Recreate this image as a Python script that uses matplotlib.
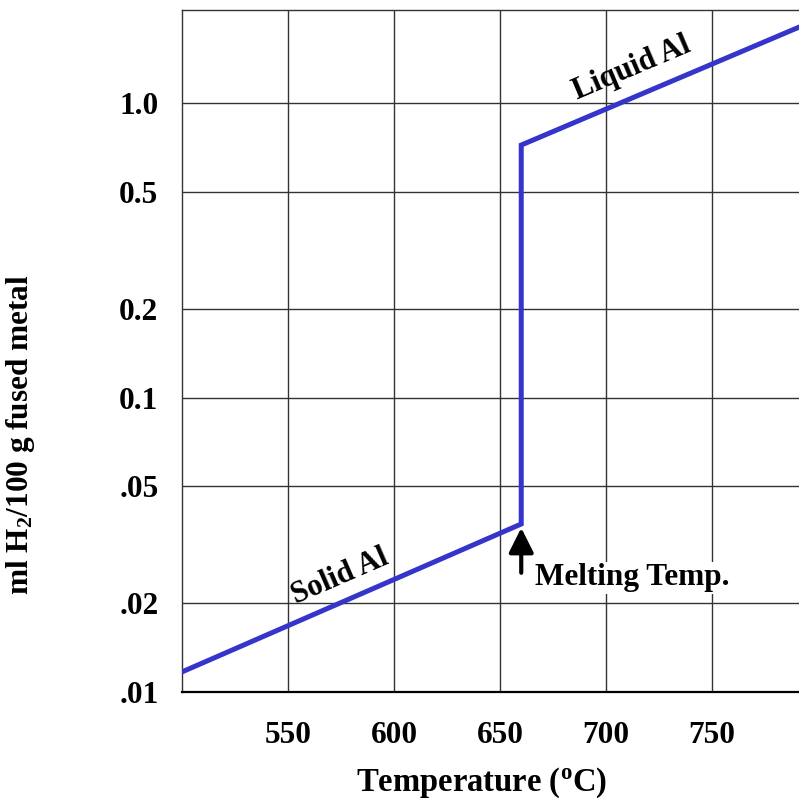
import numpy as np
import matplotlib.pyplot as plt

plt.rcParams['font.family'] = ['Liberation Serif', 'DejaVu Serif']
plt.rcParams['font.weight'] = 'bold'
plt.rcParams['axes.labelweight'] = 'bold'
plt.rcParams['mathtext.fontset'] = 'custom'
plt.rcParams['mathtext.rm'] = 'Liberation Serif:bold'
plt.rcParams['mathtext.it'] = 'Liberation Serif:bold'
plt.rcParams['mathtext.bf'] = 'Liberation Serif:bold'
plt.rcParams['mathtext.default'] = 'rm'

# hydrogen solubility in aluminium
temp_c = [500, 660, 660, 791]
h2_ml = [0.0117, 0.0372, 0.72, 1.81]
melting_temp = 660

x_ticks = [550, 600, 650, 700, 750]
y_ticks = [0.01, 0.02, 0.05, 0.1, 0.2, 0.5, 1.0]
y_labels = ['.01', '.02', '.05', '0.1', '0.2', '0.5', '1.0']

fig = plt.figure(figsize=(7.99, 8.02), dpi=100)
ax = fig.add_axes([182 / 799, 1 - 692 / 802, 1 - 182 / 799, (692 - 10) / 802])

ax.plot(temp_c, h2_ml, color='#3535cc', lw=3.6, solid_joinstyle='miter', zorder=3)

ax.set_yscale('log')
ax.set_xlim(500, 791)
ax.set_ylim(0.01, 2.07)
ax.set_xticks(x_ticks)
ax.set_yticks(y_ticks)
ax.set_yticklabels(y_labels)
ax.minorticks_off()
ax.tick_params(length=0, labelsize=22.5)
ax.tick_params(axis='x', pad=21)
ax.tick_params(axis='y', pad=17)
ax.grid(True, color='#333333', lw=1.0)

ax.spines['right'].set_visible(False)
for s in ['left', 'top']:
    ax.spines[s].set_color('#333333')
    ax.spines[s].set_linewidth(1.0)
ax.spines['bottom'].set_linewidth(1.6)

ax.set_xlabel('Temperature ($^{o}$C)', fontsize=23.5)
ax.set_ylabel('ml H$_2$/100 g fused metal', fontsize=22.5)
ax.xaxis.set_label_coords(0.485, -0.108)
ax.yaxis.set_label_coords(-0.235, 0.377)

ax.text(574.5, 0.0246, 'Solid Al', fontsize=22, rotation=23.5,
        ha='center', va='center')
ax.text(712, 1.31, 'Liquid Al', fontsize=22, rotation=23,
        ha='center', va='center')

ax.annotate('', xy=(melting_temp, 0.0361), xytext=(melting_temp, 0.0254),
            arrowprops=dict(arrowstyle='-|>,head_width=0.75,head_length=1.5',
                            color='black', lw=3.0, shrinkA=0, shrinkB=0))
ax.text(666.5, 0.0244, 'Melting Temp.', fontsize=22.5, ha='left', va='center',
        bbox=dict(facecolor='white', edgecolor='none', pad=1))

fig.savefig('out.png', dpi=100)
